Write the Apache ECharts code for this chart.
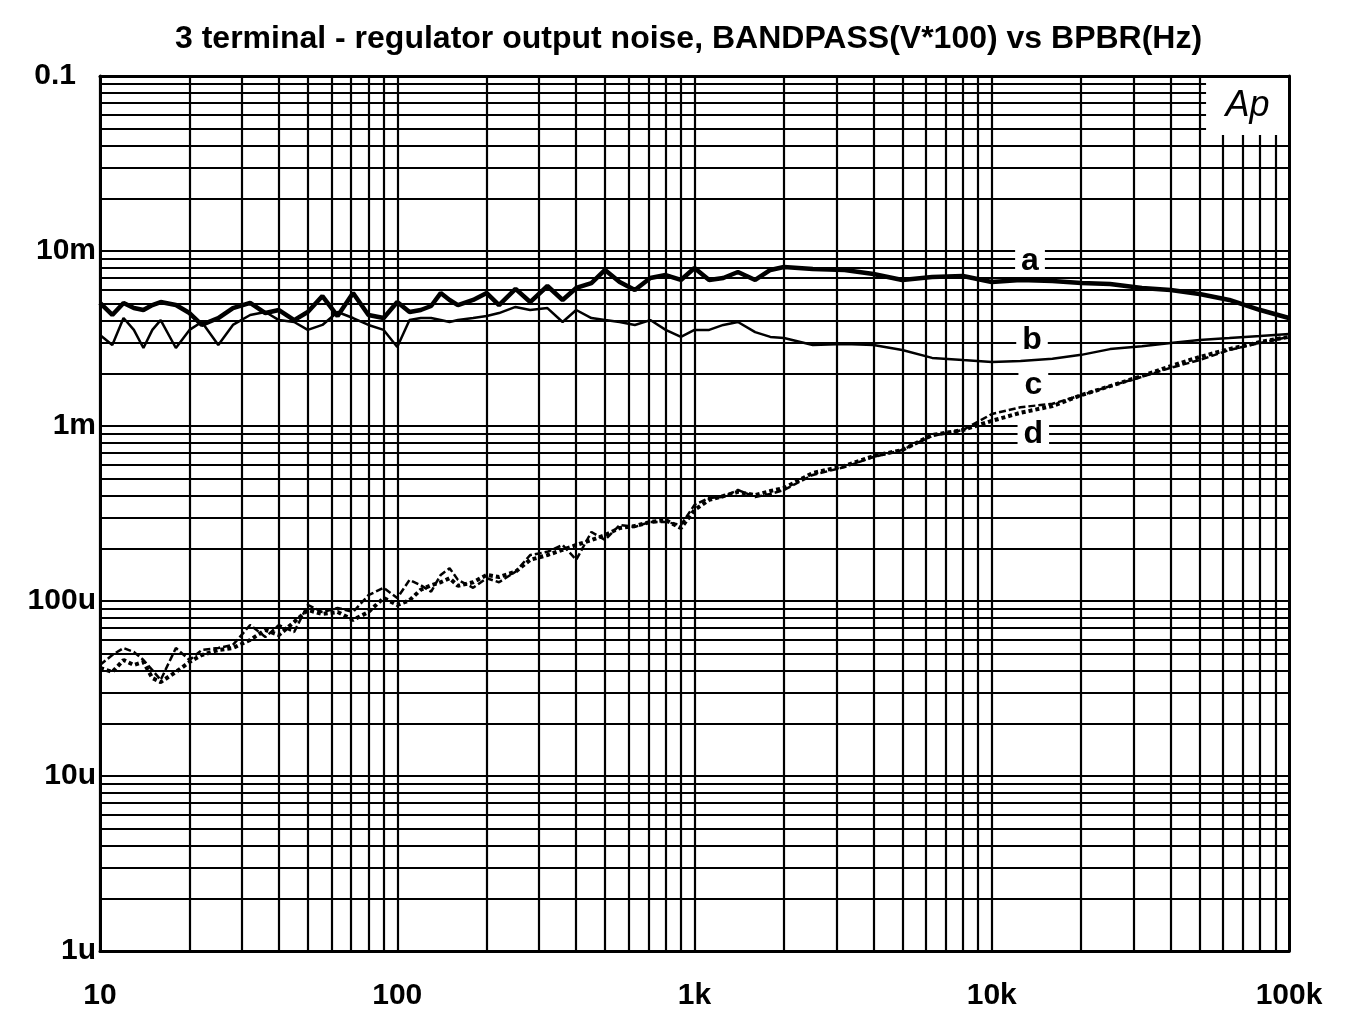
<!DOCTYPE html>
<html><head><meta charset="utf-8">
<script src="https://cdn.jsdelivr.net/npm/echarts@6/dist/echarts.min.js"></script>
<style>html,body{margin:0;padding:0;background:#fff}#c{width:1353px;height:1020px}</style>
</head><body><div id="c"></div>
<script>
// Frequencies (Hz) shared by all traces
const freqHz = [10,11,12,13,14,15,16,18,20,22,25,28,32,36,40,45,50,56,63,71,80,90,
  100,110,120,130,140,150,160,180,200,220,250,280,320,360,400,450,500,560,630,710,800,900,
  1000,1120,1250,1400,1600,1800,2000,2500,3200,4000,5000,6300,8000,
  10000,12500,16000,20000,25000,32000,40000,50000,63000,80000,100000];

// Trace a (V)
const curveA = [5.05e-3,4.31e-3,5.05e-3,4.72e-3,4.60e-3,4.91e-3,5.11e-3,4.91e-3,4.42e-3,3.78e-3,4.14e-3,4.72e-3,5.05e-3,4.42e-3,4.60e-3,4.03e-3,4.48e-3,5.53e-3,4.25e-3,5.75e-3,4.31e-3,4.14e-3,
  5.11e-3,4.48e-3,4.60e-3,4.85e-3,5.75e-3,5.25e-3,4.91e-3,5.25e-3,5.75e-3,4.91e-3,6.07e-3,5.11e-3,6.31e-3,5.25e-3,6.15e-3,6.56e-3,7.79e-3,6.65e-3,5.99e-3,7.01e-3,7.29e-3,6.83e-3,
  8.00e-3,6.83e-3,7.01e-3,7.59e-3,6.83e-3,7.79e-3,8.10e-3,7.89e-3,7.79e-3,7.39e-3,6.83e-3,7.10e-3,7.20e-3,
  6.65e-3,6.83e-3,6.74e-3,6.56e-3,6.48e-3,6.15e-3,5.99e-3,5.68e-3,5.25e-3,4.60e-3,4.14e-3];

// Trace b (V)
const curveB = [3.31e-3,2.90e-3,4.14e-3,3.54e-3,2.79e-3,3.54e-3,4.03e-3,2.79e-3,3.54e-3,3.93e-3,2.90e-3,3.78e-3,4.31e-3,4.48e-3,4.03e-3,3.93e-3,3.54e-3,3.78e-3,4.48e-3,4.14e-3,3.78e-3,3.54e-3,
  2.83e-3,4.03e-3,4.14e-3,4.14e-3,4.03e-3,3.93e-3,4.03e-3,4.14e-3,4.25e-3,4.42e-3,4.79e-3,4.60e-3,4.72e-3,3.93e-3,4.60e-3,4.14e-3,4.03e-3,3.93e-3,3.78e-3,4.03e-3,3.54e-3,3.23e-3,
  3.54e-3,3.54e-3,3.78e-3,3.93e-3,3.44e-3,3.23e-3,3.18e-3,2.90e-3,2.94e-3,2.90e-3,2.72e-3,2.45e-3,2.38e-3,
  2.32e-3,2.35e-3,2.42e-3,2.55e-3,2.75e-3,2.86e-3,2.98e-3,3.10e-3,3.18e-3,3.27e-3,3.36e-3];

// Trace c (V)
const curveC = [43.1e-6,49.1e-6,53.9e-6,51.1e-6,46.0e-6,40.3e-6,35.4e-6,53.9e-6,46.0e-6,52.5e-6,53.9e-6,56.1e-6,72.9e-6,62.3e-6,72.9e-6,66.5e-6,94.9e-6,86.5e-6,91.2e-6,86.5e-6,108e-6,119e-6,
  104e-6,132e-6,123e-6,113e-6,141e-6,154e-6,132e-6,119e-6,135e-6,128e-6,147e-6,183e-6,191e-6,209e-6,172e-6,248e-6,223e-6,272e-6,265e-6,283e-6,283e-6,272e-6,
  354e-6,388e-6,393e-6,431e-6,393e-6,409e-6,431e-6,525e-6,583e-6,665e-6,729e-6,877e-6,949e-6,
  1.17e-3,1.28e-3,1.34e-3,1.50e-3,1.69e-3,1.91e-3,2.15e-3,2.38e-3,2.72e-3,2.98e-3,3.23e-3];

// Trace d (V)
const curveD = [41.4e-6,39.3e-6,46.0e-6,43.1e-6,44.8e-6,36.3e-6,34.4e-6,39.3e-6,44.8e-6,49.1e-6,52.5e-6,53.9e-6,59.9e-6,68.3e-6,63.9e-6,75.9e-6,88.8e-6,84.3e-6,86.5e-6,77.9e-6,86.5e-6,104e-6,
  94.9e-6,101e-6,116e-6,123e-6,128e-6,135e-6,122e-6,128e-6,141e-6,137e-6,147e-6,172e-6,183e-6,196e-6,209e-6,223e-6,238e-6,261e-6,268e-6,283e-6,290e-6,261e-6,
  331e-6,378e-6,398e-6,420e-6,403e-6,425e-6,442e-6,539e-6,591e-6,674e-6,729e-6,888e-6,949e-6,
  1.07e-3,1.19e-3,1.30e-3,1.50e-3,1.69e-3,1.93e-3,2.20e-3,2.48e-3,2.75e-3,3.02e-3,3.23e-3];

// Tick labels
const xTickValues = [10,100,1000,10000,100000];
const xTickLabels = ['10','100','1k','10k','100k'];
const yTickValues = [1e-6,1e-5,1e-4,1e-3,1e-2,1e-1];
const yTickLabels = ['1u','10u','100u','1m','10m','0.1'];

// Trace name tags
const tagNames = ['a','b','c','d'];
const tagFreq = [13450,13660,13800,13800];
const tagVolt = [8.77e-3,3.10e-3,1.71e-3,0.90e-3];

const titleText = '3 terminal - regulator output noise, BANDPASS(V*100) vs BPBR(Hz)';
const FONT = '"Liberation Sans", Arial, sans-serif';

function pick(vals, labels, v) {
  for (let i = 0; i < vals.length; i++) {
    if (Math.abs(Math.log10(vals[i]) - Math.log10(v)) < 1e-6) return labels[i];
  }
  return '';
}
const pairs = arr => freqHz.map((f, i) => [f, arr[i]]);

// log grid lines (1..9 per decade)
const gridLines = [];
for (let e = 1; e <= 4; e++) for (let k = 1; k <= 9; k++) gridLines.push({xAxis: k * Math.pow(10, e)});
for (let e = -6; e <= -2; e++) for (let k = 1; k <= 9; k++) gridLines.push({yAxis: k * Math.pow(10, e)});

const chart = echarts.init(document.getElementById('c'));
const axisLineStyle = {show: true, lineStyle: {color: '#000', width: 3}};
chart.setOption({
  animation: false,
  backgroundColor: '#fff',
  title: {
    text: titleText, left: 170, top: 18,
    textStyle: {fontFamily: FONT, fontWeight: 'bold', fontSize: 32, color: '#000'}
  },
  grid: {left: 100, right: 64, top: 76, bottom: 69, containLabel: false},
  xAxis: [{
    type: 'log', logBase: 10, min: 10, max: 100000, position: 'bottom', z: 10,
    axisLine: axisLineStyle, axisTick: {show: false}, splitLine: {show: false},
    axisLabel: {margin: 30, fontFamily: FONT, fontWeight: 'bold', fontSize: 30, color: '#000',
      formatter: v => pick(xTickValues, xTickLabels, v)}
  }, {
    type: 'log', logBase: 10, min: 10, max: 100000, position: 'top', z: 10,
    axisLine: axisLineStyle, axisTick: {show: false}, splitLine: {show: false}, axisLabel: {show: false}
  }],
  yAxis: [{
    type: 'log', logBase: 10, min: 1e-6, max: 0.1, position: 'left', z: 10,
    axisLine: axisLineStyle, axisTick: {show: false}, splitLine: {show: false},
    axisLabel: {margin: 4, fontFamily: FONT, fontWeight: 'bold', fontSize: 30, color: '#000',
      formatter: v => { const s = pick(yTickValues, yTickLabels, v); return s === '0.1' ? '{p|0.1}' : s; },
      rich: {p: {fontFamily: FONT, fontWeight: 'bold', fontSize: 30, color: '#000', padding: [0, 20, 0, 0]}}}
  }, {
    type: 'log', logBase: 10, min: 1e-6, max: 0.1, position: 'right', z: 10,
    axisLine: axisLineStyle, axisTick: {show: false}, splitLine: {show: false}, axisLabel: {show: false}
  }],
  series: [
    {
      type: 'line', data: [], z: 1, silent: true,
      markLine: {silent: true, z: 1, precision: 12, symbol: ['none', 'none'], label: {show: false},
        lineStyle: {color: '#000', width: 2.2, type: 'solid'}, data: gridLines, animation: false}
    },
    {
      type: 'line', data: [], z: 5, silent: true,
      markArea: {silent: true, z: 5, itemStyle: {color: '#fff', opacity: 1},
        label: {show: true, position: 'inside', formatter: 'Ap', fontFamily: FONT, fontStyle: 'italic',
          fontWeight: 'normal', fontSize: 36, color: '#000'},
        data: [[{xAxis: 52600, yAxis: 0.1}, {xAxis: 100000, yAxis: 0.046}]]}
    },
    {name: 'd', type: 'line', data: pairs(curveD), z: 3, showSymbol: false, symbol: 'none',
      lineStyle: {color: '#000', width: 4, type: [4, 3]}},
    {name: 'c', type: 'line', data: pairs(curveC), z: 3, showSymbol: false, symbol: 'none',
      lineStyle: {color: '#000', width: 2.5, type: [7, 3]}},
    {name: 'b', type: 'line', data: pairs(curveB), z: 3, showSymbol: false, symbol: 'none',
      lineStyle: {color: '#000', width: 2.5}},
    {name: 'a', type: 'line', data: pairs(curveA), z: 3, showSymbol: false, symbol: 'none',
      lineStyle: {color: '#000', width: 4.5}},
    {
      type: 'scatter', z: 6, symbolSize: 1, itemStyle: {color: '#fff', opacity: 1}, silent: true,
      data: tagNames.map((n, i) => [tagFreq[i], tagVolt[i], n]),
      label: {show: true, position: 'inside', formatter: p => p.data[2], fontFamily: FONT, fontWeight: 'bold',
        fontSize: 32, color: '#000', opacity: 1, backgroundColor: '#fff', padding: [0, 6], lineHeight: 30}
    }
  ]
});
</script></body></html>
